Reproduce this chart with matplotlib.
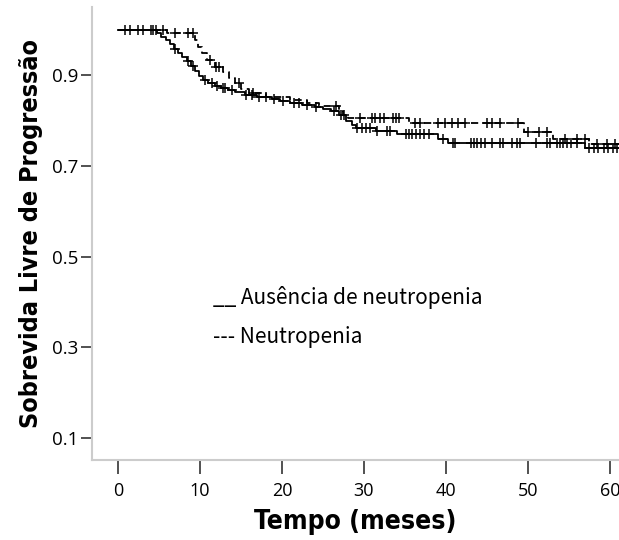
import numpy as np
import matplotlib; matplotlib.use("Agg")
import matplotlib.pyplot as plt
from matplotlib import font_manager

# Kaplan-Meier steps: (time in months, survival after the step)
aus_t = [0, 4.8, 5.3, 5.8, 6.3, 6.8, 7.3, 7.8, 8.4, 8.9, 9.4, 9.9, 10.4, 11.0, 11.8, 12.6, 13.4,
         14.3, 15.5, 17.0, 18.8, 19.8, 21.0, 22.5, 24.0, 25.0, 26.0, 27.0, 27.8, 28.5, 29.0,
         31.5, 34.0, 39.0, 40.3, 57.0]
aus_s = [1.0, 0.993, 0.985, 0.978, 0.968, 0.958, 0.948, 0.940, 0.930, 0.920, 0.908, 0.898, 0.889,
         0.883, 0.877, 0.872, 0.867, 0.862, 0.857, 0.852, 0.848, 0.843, 0.838, 0.834, 0.830, 0.826,
         0.820, 0.812, 0.800, 0.790, 0.783, 0.777, 0.770, 0.760, 0.750, 0.740]
aus_cens = [0.8, 2.5, 4.0, 4.3, 4.6, 7.0, 8.5, 9.1, 10.6, 11.5, 12.1, 12.8, 13.1, 13.9, 15.6, 16.4,
            17.2, 18.1, 19.0, 20.1, 21.5, 22.1, 23.1, 24.2, 26.3, 27.2, 29.2, 29.7, 30.2, 30.7,
            31.6, 32.8, 33.2, 35.1, 35.5, 35.9, 36.3, 36.8, 37.3, 37.9, 39.6, 40.8, 41.1, 43.0,
            43.4, 43.8, 44.3, 44.8, 45.6, 46.6, 47.0, 48.0, 48.7, 49.0, 51.0, 52.3, 52.7, 53.5,
            53.9, 54.3, 54.8, 55.3, 56.0, 57.5, 58.0, 58.6, 59.3, 59.8, 60.4, 60.9, 61.4]

neu_t = [0, 6.0, 9.4, 9.8, 10.3, 10.9, 11.8, 12.8, 13.6, 14.3, 15.0, 16.0, 18.0, 21.0, 23.0,
         24.5, 27.0, 27.5, 28.0, 35.5, 49.5, 53.0, 57.5]
neu_s = [1.0, 0.992, 0.977, 0.962, 0.948, 0.933, 0.918, 0.906, 0.893, 0.882, 0.870, 0.860, 0.852,
         0.845, 0.838, 0.832, 0.822, 0.812, 0.805, 0.795, 0.775, 0.760, 0.748]
neu_cens = [1.5, 3.0, 5.5, 7.0, 8.6, 9.2, 11.2, 11.9, 12.3, 14.8, 16.5, 26.6, 27.6, 29.5, 31.0,
            31.4, 32.0, 32.4, 33.5, 33.9, 34.3, 36.2, 36.8, 39.0, 39.9, 40.7, 41.5, 42.3, 45.0,
            45.6, 46.6, 48.8, 50.0, 51.4, 52.3, 54.5, 56.0, 57.0, 58.4, 59.6, 60.6, 61.4]

x_ticks = [0, 10, 20, 30, 40, 50, 60]
y_ticks = [0.1, 0.3, 0.5, 0.7, 0.9]
legend_lines = ["__ Ausência de neutropenia", "--- Neutropenia"]
t_end = 61.5

# bold condensed face for the axis titles, if one is installed
names = {f.name for f in font_manager.fontManager.ttflist}
label_font = dict(family="DejaVu Sans", stretch="condensed")
if "Liberation Sans Narrow" in names:
    label_font = dict(family="Liberation Sans Narrow")


def km(ax, t, s, cens, ls):
    t = np.asarray(t); s = np.asarray(s)
    line, = ax.step(np.append(t, t_end), np.append(s, s[-1]), where="post", color="black",
                    lw=1.3, zorder=3)
    if ls == "--":
        line.set_dashes((4, 2.5))
    c = np.asarray(cens)
    cy = s[np.searchsorted(t, c, side="right") - 1]
    ax.plot(c, cy, ls="none", marker="+", ms=7.5, mew=1.1, color="black", zorder=4)


fig = plt.figure(figsize=(6.19, 5.40), dpi=100)
ax = fig.add_axes([0.1486, 0.148, 0.8514, 0.839])
km(ax, aus_t, aus_s, aus_cens, "-")
km(ax, neu_t, neu_s, neu_cens, "--")

ax.set_xlim(-3.17, 61.1)
ax.set_ylim(0.052, 1.05)
ax.set_xticks(x_ticks)
ax.set_yticks(y_ticks)
ax.set_yticklabels([f"{v:.1f}" for v in y_ticks])
for side in ("top", "right"):
    ax.spines[side].set_visible(False)
for side in ("left", "bottom"):
    ax.spines[side].set_color("#cccccc")
    ax.spines[side].set_linewidth(1.5)
ax.tick_params(axis="y", length=8, width=1.2, color="#333333", labelsize=13.5, pad=2)
ax.tick_params(axis="x", length=10, width=1.2, color="#333333", labelsize=13, pad=6)
for lab in ax.get_xticklabels() + ax.get_yticklabels():
    lab.set_family("Open Sans")

ax.set_xlabel("Tempo (meses)", fontsize=19, fontweight="bold", labelpad=6, **label_font)
ax.set_ylabel("Sobrevida Livre de Progressão", fontsize=18, fontweight="bold",
              labelpad=6, **label_font)

for y, txt in zip([0.358, 0.272], legend_lines):
    ax.text(0.2296, y, txt, transform=ax.transAxes, fontsize=15,
            family=["Noto Sans CJK JP", "DejaVu Sans"], va="center", ha="left")

fig.savefig("out.png", dpi=100)
